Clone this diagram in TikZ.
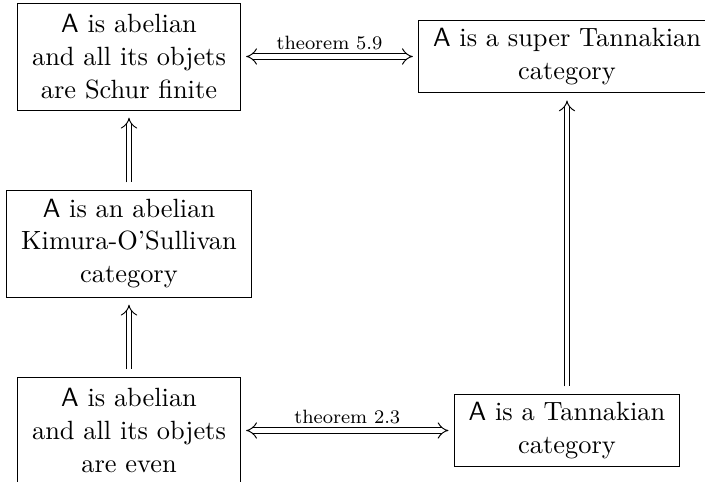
\documentclass[tikz,border=0pt]{standalone}
\usetikzlibrary{arrows.meta}
\begin{document}
\begin{tikzpicture}[x=0.415pt,y=-0.415pt,
  box/.style={draw, line width=0.4pt, align=center, inner xsep=6pt,
              font=\fontsize{10.95}{13.6}\selectfont},
  tallbox/.style={box, minimum height=44.4pt},
  shortbox/.style={box, minimum height=29.7pt},
  impl/.style={double, double distance=2pt, line width=0.4pt, -{Implies},
               shorten <=3pt, shorten >=3pt},
  equiv/.style={double, double distance=2pt, line width=0.4pt, {Implies}-{Implies},
               shorten <=2.2pt, shorten >=2.2pt},
  lab/.style={font=\fontsize{8}{9.5}\selectfont, inner sep=2.5pt}]
\useasboundingbox (0,0) rectangle (705,482);
\node[tallbox] (tl) at (129,56.5) {$\mathsf{A}$ is abelian\\and all its objets\\are Schur finite};
\node[shortbox] (tr) at (567,56.5) {$\mathsf{A}$ is a super Tannakian\\category};
\node[tallbox] (ml) at (129,243.5) {$\mathsf{A}$ is an abelian\\Kimura-O'Sullivan\\category};
\node[tallbox] (bl) at (129,430.5) {$\mathsf{A}$ is abelian\\and all its objets\\are even};
\node[shortbox] (br) at (567,430.5) {$\mathsf{A}$ is a Tannakian\\category};
\draw[equiv] (tl.east) -- node[lab, above] {theorem 5.9} (tr.west);
\draw[equiv] (bl.east) -- node[lab, above] {theorem 2.3} (br.west);
\draw[impl] (ml.north) -- (tl.south);
\draw[impl] (bl.north) -- (ml.south);
\draw[impl] (br.north) -- (tr.south);
\end{tikzpicture}
\end{document}
